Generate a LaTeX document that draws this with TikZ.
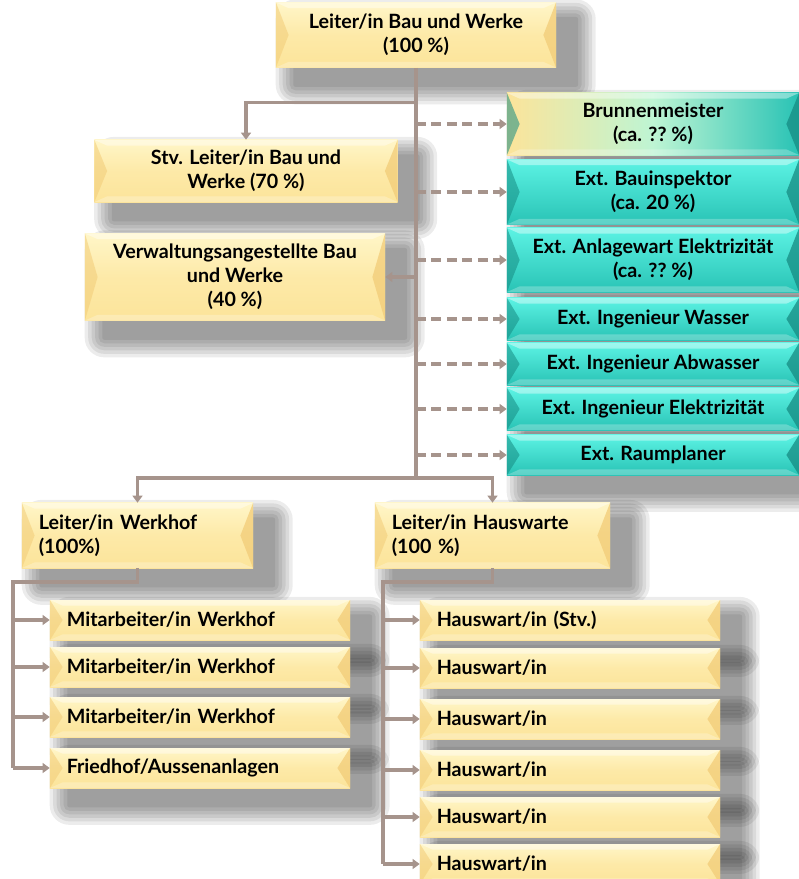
\documentclass[tikz,border=0pt]{standalone}
\usepackage{fontspec}
\setmainfont{Lato}
\usetikzlibrary{arrows.meta}
\usetikzlibrary{backgrounds}
\definecolor{gelbhell}{HTML}{FFF6C8}
\definecolor{gelb}{HTML}{FCE49A}
\definecolor{gelbdunkel}{HTML}{F2CC78}
\definecolor{tuerkishell}{HTML}{5CF3E4}
\definecolor{tuerkis}{HTML}{29C3B5}
\definecolor{tuerkisdunkel}{HTML}{168C83}
\definecolor{linie}{HTML}{A6948C}
\newcommand{\kante}[1]{%
  \fill[#1,opacity=.55] (path picture bounding box.north west) -- ([xshift=9pt]path picture bounding box.west) -- (path picture bounding box.south west) -- cycle;
  \fill[#1,opacity=.75] (path picture bounding box.north east) -- ([xshift=-9pt]path picture bounding box.east) -- (path picture bounding box.south east) -- cycle;
  \fill[white,opacity=.4] (path picture bounding box.north west) -- (path picture bounding box.north east) -- ([xshift=-9pt,yshift=-4pt]path picture bounding box.north east) -- ([xshift=9pt,yshift=-4pt]path picture bounding box.north west) -- cycle;
  \fill[white,opacity=.25] (path picture bounding box.south west) -- (path picture bounding box.south east) -- ([xshift=-9pt,yshift=4pt]path picture bounding box.south east) -- ([xshift=9pt,yshift=4pt]path picture bounding box.south west) -- cycle;}
\newcommand{\schatten}[1]{%
  \foreach \r in {14,11.5,9,6.5,4,1.5}
    \fill[black,opacity=.075,rounded corners=\r pt] ([xshift={14pt-\r pt},yshift={-12pt+\r pt}]#1.north west) rectangle ([xshift={14pt+\r pt},yshift={-12pt-\r pt}]#1.south east);}

\begin{document}
\begin{tikzpicture}[x=0.025cm,y=-0.025cm,
  font=\fontsize{14}{17}\selectfont\bfseries,
  gelbbox/.style={rectangle,top color=gelbhell,bottom color=gelb,middle color=gelb!70!gelbhell,inner sep=0pt,align=center,path picture={\kante{gelbdunkel}}},
  linksbox/.style={gelbbox,align=left,inner xsep=0.42cm,text width=#1},
  tuerkisbox/.style={rectangle,top color=tuerkishell,bottom color=tuerkis,inner sep=0pt,align=center,minimum width=7.3cm,path picture={\kante{tuerkisdunkel}}},
  mischbox/.style={rectangle,left color=gelb,right color=tuerkis,middle color=gelbhell!60!tuerkishell,inner sep=0pt,align=center,minimum width=7.3cm,path picture={\kante{tuerkisdunkel}}},
  verbinder/.style={draw=linie,line width=2.2pt},
  pfeil/.style={verbinder,-{Triangle[length=5pt,width=7pt]}},
  strich/.style={pfeil,dash pattern=on 7pt off 4pt}]
  \useasboundingbox (0,0) rectangle (799,879);
  \node[gelbbox,minimum width=7cm,minimum height=1.625cm] (chef) at (416,35) {Leiter/in Bau und Werke\\(100~\%)};
  \node[gelbbox,minimum width=7.575cm,minimum height=1.55cm] (stv) at (246,171) {Stv. Leiter/in Bau und\\Werke (70~\%)};
  \node[gelbbox,minimum width=7.5cm,minimum height=2.175cm] (verw) at (235,277) {Verwaltungsangestellte Bau\\und Werke\\(40~\%)};
  \node[mischbox,minimum height=1.55cm] (brunnen) at (653,124) {Brunnenmeister\\(ca. ??~\%)};
  \node[tuerkisbox,minimum height=1.625cm] (bauinsp) at (653,192) {Ext. Bauinspektor\\(ca. 20~\%)};
  \node[tuerkisbox,minimum height=1.6cm] (anlage) at (653,260) {Ext. Anlagewart Elektrizität\\(ca. ??~\%)};
  \node[tuerkisbox,minimum height=1.05cm] (wasser) at (653,319) {Ext. Ingenieur Wasser};
  \node[tuerkisbox,minimum height=1.05cm] (abwasser) at (653,364) {Ext. Ingenieur Abwasser};
  \node[tuerkisbox,minimum height=1.05cm] (elektro) at (653,409) {Ext. Ingenieur Elektrizität};
  \node[tuerkisbox,minimum height=1cm] (raum) at (653,455) {Ext. Raumplaner};
  \coordinate (knoten) at (416,478);
  \node[linksbox=4.935cm,minimum height=1.625cm] (lwerk) at (137.5,535.5) {Leiter/in Werkhof\\(100\%)};
  \node[linksbox=5.035cm,minimum height=1.625cm] (lhaus) at (492.5,535.5) {Leiter/in Hauswarte\\(100~\%)};
  \coordinate (wbalken) at (13,582);
  \coordinate (hbalken) at (383,582);
  \node[linksbox=6.66cm,minimum height=1cm] (w1) at (200,620) {Mitarbeiter/in Werkhof};
  \node[linksbox=6.66cm,minimum height=1cm] (w2) at (200,667) {Mitarbeiter/in Werkhof};
  \node[linksbox=6.66cm,minimum height=1cm] (w3) at (200,717) {Mitarbeiter/in Werkhof};
  \node[linksbox=6.66cm,minimum height=1cm] (w4) at (200,768) {Friedhof/Aussenanlagen};
  \node[linksbox=6.66cm,minimum height=1cm] (h1) at (570,620) {Hauswart/in (Stv.)};
  \node[linksbox=6.66cm,minimum height=1cm] (h2) at (570,668) {Hauswart/in};
  \node[linksbox=6.66cm,minimum height=1cm] (h3) at (570,719) {Hauswart/in};
  \node[linksbox=6.66cm,minimum height=1cm] (h4) at (570,770) {Hauswart/in};
  \node[linksbox=6.66cm,minimum height=1cm] (h5) at (570,817) {Hauswart/in};
  \node[linksbox=6.66cm,minimum height=1cm] (h6) at (570,864) {Hauswart/in};
  \begin{scope}[on background layer]
    \fill[white] (0,0) rectangle (799,879);
    \foreach \n in {chef,stv,verw,brunnen,bauinsp,anlage,wasser,abwasser,elektro,raum,lwerk,lhaus,w1,w2,w3,w4,h1,h2,h3,h4,h5,h6}
      \schatten{\n};
  \end{scope}
  \draw[verbinder] (chef.south) -- (knoten);
  \draw[pfeil] (chef.south) ++(0,35) -| (stv.north);
  \draw[pfeil] (chef.south |- verw.east) -- (verw.east);
  \draw[strich] (chef.south |- brunnen.west) -- (brunnen.west);
  \draw[strich] (chef.south |- bauinsp.west) -- (bauinsp.west);
  \draw[strich] (chef.south |- anlage.west) -- (anlage.west);
  \draw[strich] (chef.south |- wasser.west) -- (wasser.west);
  \draw[strich] (chef.south |- abwasser.west) -- (abwasser.west);
  \draw[strich] (chef.south |- elektro.west) -- (elektro.west);
  \draw[strich] (chef.south |- raum.west) -- (raum.west);
  \draw[pfeil] (knoten) -| (lwerk.north);
  \draw[pfeil] (knoten) -| (lhaus.north);
  \draw[verbinder] (lwerk.south) |- (wbalken) -- (wbalken |- w4.west);
  \draw[pfeil] (wbalken |- w1.west) -- (w1.west);
  \draw[pfeil] (wbalken |- w2.west) -- (w2.west);
  \draw[pfeil] (wbalken |- w3.west) -- (w3.west);
  \draw[pfeil] (wbalken |- w4.west) -- (w4.west);
  \draw[verbinder] (lhaus.south) |- (hbalken) -- (hbalken |- h6.west);
  \draw[pfeil] (hbalken |- h1.west) -- (h1.west);
  \draw[pfeil] (hbalken |- h2.west) -- (h2.west);
  \draw[pfeil] (hbalken |- h3.west) -- (h3.west);
  \draw[pfeil] (hbalken |- h4.west) -- (h4.west);
  \draw[pfeil] (hbalken |- h5.west) -- (h5.west);
  \draw[pfeil] (hbalken |- h6.west) -- (h6.west);
\end{tikzpicture}
\end{document}
